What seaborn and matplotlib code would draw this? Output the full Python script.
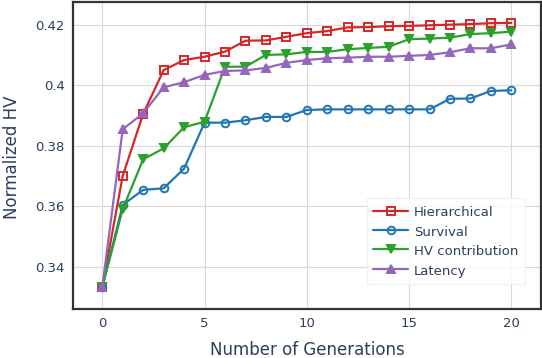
import numpy as np
import pandas as pd
import matplotlib
matplotlib.use("Agg")
import matplotlib.pyplot as plt
import seaborn as sns

generations = list(range(21))
hierarchical = [0.3332, 0.3700, 0.3905, 0.4050, 0.4083, 0.4094, 0.4111, 0.4147, 0.4148, 0.4160, 0.4172,
                0.4179, 0.4191, 0.4192, 0.4195, 0.4196, 0.4198, 0.4200, 0.4202, 0.4205, 0.4206]
survival = [0.3332, 0.3604, 0.3654, 0.3659, 0.3724, 0.3876, 0.3876, 0.3884, 0.3895, 0.3895, 0.3918,
            0.3920, 0.3920, 0.3920, 0.3920, 0.3920, 0.3920, 0.3955, 0.3956, 0.3981, 0.3983]
hv_contribution = [0.3332, 0.3590, 0.3755, 0.3791, 0.3861, 0.3879, 0.4061, 0.4061, 0.4100, 0.4102, 0.4110,
                   0.4110, 0.4119, 0.4123, 0.4127, 0.4152, 0.4154, 0.4157, 0.4169, 0.4172, 0.4177]
latency = [0.3332, 0.3854, 0.3907, 0.3993, 0.4010, 0.4034, 0.4047, 0.4049, 0.4057, 0.4074, 0.4083,
           0.4089, 0.4091, 0.4094, 0.4094, 0.4097, 0.4100, 0.4109, 0.4122, 0.4122, 0.4135]

series_names = ["Hierarchical", "Survival", "HV contribution", "Latency"]
series_values = [hierarchical, survival, hv_contribution, latency]
colors = ["#d62728", "#1f77b4", "#2ca02c", "#9467bd"]
markers = ["s", "o", "v", "^"]
hollow = [True, True, False, False]

txt = "#2a3f5f"
sns.set_style("whitegrid", {"grid.color": "#d9d9d9", "axes.edgecolor": "#333333"})
plt.rcParams["font.family"] = ["DejaVu Sans"]

fig = plt.figure(figsize=(5.42, 3.58), dpi=100)
ax = fig.add_axes([0.1347, 0.1369, 0.8635, 0.8575])

for name, vals, c, m, h in zip(series_names, series_values, colors, markers, hollow):
    df = pd.DataFrame({"gen": generations, "hv": vals})
    sns.lineplot(data=df, x="gen", y="hv", ax=ax, color=c, marker=m, label=name,
                 linewidth=1.6, markersize=5.5 if h else 6, mfc="none" if h else c,
                 mec=c, mew=1.4)

ax.set_xlim(-1.43, 21.45)
ax.set_ylim(0.326, 0.4275)
ax.set_xticks([0, 5, 10, 15, 20])
ax.set_yticks([0.34, 0.36, 0.38, 0.40, 0.42])
ax.set_yticklabels(["0.34", "0.36", "0.38", "0.4", "0.42"])
ax.tick_params(colors=txt, labelsize=9.5, length=0, pad=6)
for s in ax.spines.values():
    s.set_linewidth(1.6)
    s.set_color("#333333")

ax.set_xlabel("Number of Generations", color=txt, fontsize=12, va="center")
ax.xaxis.set_label_coords(0.5, -0.132)
ax.set_ylabel("Normalized HV", color=txt, fontsize=12, va="center")
ax.yaxis.set_label_coords(-0.131, 0.495)

leg = ax.legend(loc="lower right", bbox_to_anchor=(0.966, 0.081), borderaxespad=0,
                fontsize=9.5, frameon=True, fancybox=False, handlelength=2.65,
                handletextpad=0.45, borderpad=0.5, handleheight=1.3, labelspacing=0.36)
leg.get_frame().set_edgecolor("#eeeeee")
for t in leg.get_texts():
    t.set_color(txt)

fig.savefig("out.png", dpi=100)
